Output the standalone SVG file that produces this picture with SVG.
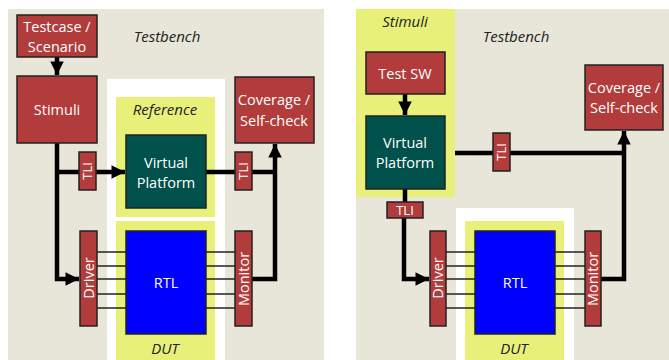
<svg xmlns="http://www.w3.org/2000/svg" width="669" height="360" viewBox="0 0 669 360">
  <style>
    .bg { fill: #e8e6d9; }
    .gap { fill: #ffffff; }
    .zone { fill: #e8f07a; }
    .blk { fill: #b23b3b; stroke: #222; stroke-width: 1.5; }
    .vp { fill: #00504c; stroke: #222; stroke-width: 1.5; }
    .rtl { fill: #0000ff; stroke: #222; stroke-width: 1.5; }
    .lbl { font-family: "Open Sans", "Liberation Sans", sans-serif; font-size: 14.5px; fill: #ffffff; text-anchor: middle; }
    .sm { font-size: 13px; }
    .cap { font-family: "Open Sans", "Liberation Sans", sans-serif; font-size: 15px; font-style: italic; fill: #222; text-anchor: middle; }
    .wire { stroke: #000; stroke-width: 4.5; fill: none; }
    .bus { stroke: #222; stroke-width: 1.5; }
  </style>
  <defs>
    <marker id="head" viewBox="0 0 10 10" refX="10" refY="5" markerWidth="3.1" markerHeight="3" orient="auto" markerUnits="strokeWidth">
      <path d="M0,0 L10,5 L0,10 Z" fill="#000"/>
    </marker>
  </defs>

  <!-- ===== Left: testbench with reference model ===== -->
  <g id="left-panel">
    <rect class="bg" x="8" y="9" width="316" height="351"/>
    <rect class="gap" x="107" y="79" width="118" height="281"/>
    <rect id="reference-zone" class="zone" x="116" y="97" width="99" height="120"/>
    <rect id="dut-zone-left" class="zone" x="116" y="221" width="99" height="139"/>
    <text class="cap" x="167" y="42">Testbench</text>
    <text class="cap" x="165" y="115">Reference</text>
    <text class="cap" x="165" y="354">DUT</text>
  </g>

  <!-- ===== Right: testbench with virtual platform as stimuli ===== -->
  <g id="right-panel">
    <rect class="bg" x="356" y="9" width="313" height="351"/>
    <rect id="stimuli-zone" class="zone" x="356" y="9" width="99" height="188"/>
    <rect class="gap" x="456" y="208" width="118" height="152"/>
    <rect id="dut-zone-right" class="zone" x="465" y="221" width="99" height="139"/>
    <text class="cap" x="405" y="27">Stimuli</text>
    <text class="cap" x="516" y="42">Testbench</text>
    <text class="cap" x="514" y="354">DUT</text>
  </g>

  <!-- ===== Connectors ===== -->
  <g id="connectors">
    <!-- left -->
    <line class="wire" x1="57" y1="57" x2="57" y2="75" marker-end="url(#head)"/>
    <polyline class="wire" points="57,143 57,279 79,279" marker-end="url(#head)"/>
    <line class="wire" x1="57" y1="172" x2="125" y2="172" marker-end="url(#head)"/>
    <line class="wire" x1="206" y1="172" x2="275" y2="172"/>
    <polyline class="wire" points="252,279 275,279 275,144" marker-end="url(#head)"/>
    <!-- left bus lines -->
    <g class="bus">
      <line x1="97" y1="252" x2="126" y2="252"/>
      <line x1="97" y1="266" x2="126" y2="266"/>
      <line x1="97" y1="279" x2="126" y2="279"/>
      <line x1="97" y1="294" x2="126" y2="294"/>
      <line x1="97" y1="308" x2="126" y2="308"/>
      <line x1="206" y1="252" x2="235" y2="252"/>
      <line x1="206" y1="266" x2="235" y2="266"/>
      <line x1="206" y1="279" x2="235" y2="279"/>
      <line x1="206" y1="294" x2="235" y2="294"/>
      <line x1="206" y1="308" x2="235" y2="308"/>
    </g>
    <!-- right -->
    <line class="wire" x1="405" y1="94" x2="405" y2="115" marker-end="url(#head)"/>
    <line class="wire" x1="405" y1="189" x2="405" y2="202"/>
    <polyline class="wire" points="404,218 404,279 429,279" marker-end="url(#head)"/>
    <line class="wire" x1="455" y1="153" x2="624" y2="153"/>
    <polyline class="wire" points="601,279 624,279 624,131" marker-end="url(#head)"/>
    <!-- right bus lines -->
    <g class="bus">
      <line x1="446" y1="252" x2="475" y2="252"/>
      <line x1="446" y1="266" x2="475" y2="266"/>
      <line x1="446" y1="279" x2="475" y2="279"/>
      <line x1="446" y1="294" x2="475" y2="294"/>
      <line x1="446" y1="308" x2="475" y2="308"/>
      <line x1="555" y1="252" x2="585" y2="252"/>
      <line x1="555" y1="266" x2="585" y2="266"/>
      <line x1="555" y1="279" x2="585" y2="279"/>
      <line x1="555" y1="294" x2="585" y2="294"/>
      <line x1="555" y1="308" x2="585" y2="308"/>
    </g>
  </g>

  <!-- ===== Left nodes ===== -->
  <g id="testcase">
    <rect class="blk" x="17" y="15" width="80" height="42"/>
    <text class="lbl" x="57" y="32">Testcase /</text>
    <text class="lbl" x="57" y="52">Scenario</text>
  </g>
  <g id="stimuli-left">
    <rect class="blk" x="17" y="76" width="80" height="67"/>
    <text class="lbl" x="57" y="115">Stimuli</text>
  </g>
  <g id="coverage-left">
    <rect class="blk" x="235" y="77" width="79" height="66"/>
    <text class="lbl" x="274" y="105">Coverage /</text>
    <text class="lbl" x="274" y="126">Self-check</text>
  </g>
  <g id="tli-left-in">
    <rect class="blk" x="79" y="152" width="17" height="38"/>
    <text class="lbl sm" transform="translate(92,171) rotate(-90)">TLI</text>
  </g>
  <g id="vp-left">
    <rect class="vp" x="126" y="135" width="80" height="73"/>
    <text class="lbl" x="166" y="168">Virtual</text>
    <text class="lbl" x="166" y="188">Platform</text>
  </g>
  <g id="tli-left-out">
    <rect class="blk" x="235" y="152" width="17" height="38"/>
    <text class="lbl sm" transform="translate(248,171) rotate(-90)">TLI</text>
  </g>
  <g id="driver-left">
    <rect class="blk" x="80" y="231" width="17" height="95"/>
    <text class="lbl" transform="translate(93.5,278) rotate(-90)">Driver</text>
  </g>
  <g id="rtl-left">
    <rect class="rtl" x="126" y="231" width="80" height="103"/>
    <text class="lbl" x="166" y="288">RTL</text>
  </g>
  <g id="monitor-left">
    <rect class="blk" x="235" y="231" width="17" height="95"/>
    <text class="lbl" transform="translate(248.5,279) rotate(-90)">Monitor</text>
  </g>

  <!-- ===== Right nodes ===== -->
  <g id="test-sw">
    <rect class="blk" x="366" y="52" width="79" height="42"/>
    <text class="lbl" x="405" y="79">Test SW</text>
  </g>
  <g id="vp-right">
    <rect class="vp" x="366" y="116" width="79" height="73"/>
    <text class="lbl" x="405" y="148">Virtual</text>
    <text class="lbl" x="405" y="168">Platform</text>
  </g>
  <g id="tli-right-out">
    <rect class="blk" x="493" y="133" width="17" height="38"/>
    <text class="lbl sm" transform="translate(506,152) rotate(-90)">TLI</text>
  </g>
  <g id="coverage-right">
    <rect class="blk" x="585" y="65" width="78" height="65"/>
    <text class="lbl" x="624" y="93">Coverage /</text>
    <text class="lbl" x="624" y="113">Self-check</text>
  </g>
  <g id="tli-right-in">
    <rect class="blk" x="387" y="202" width="36" height="16"/>
    <text class="lbl sm" x="405" y="215">TLI</text>
  </g>
  <g id="driver-right">
    <rect class="blk" x="430" y="231" width="16" height="95"/>
    <text class="lbl" transform="translate(443,278) rotate(-90)">Driver</text>
  </g>
  <g id="rtl-right">
    <rect class="rtl" x="475" y="231" width="80" height="103"/>
    <text class="lbl" x="515" y="288">RTL</text>
  </g>
  <g id="monitor-right">
    <rect class="blk" x="585" y="231" width="16" height="95"/>
    <text class="lbl" transform="translate(598,279) rotate(-90)">Monitor</text>
  </g>
</svg>
